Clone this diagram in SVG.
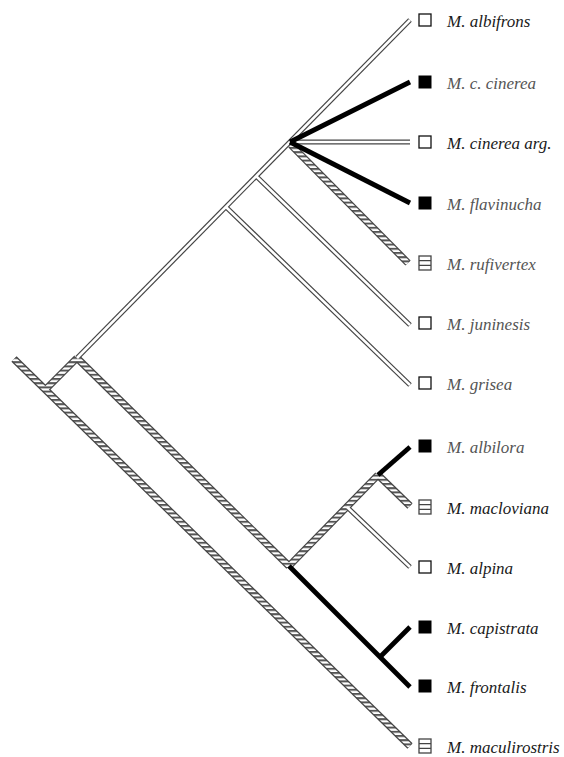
<svg xmlns="http://www.w3.org/2000/svg" width="564" height="757" viewBox="0 0 564 757">
<defs>
<pattern id="hatch" patternUnits="userSpaceOnUse" width="4" height="4.2">
<rect width="4" height="4.2" fill="#ffffff"/>
<rect width="4" height="2" fill="#555555"/>
</pattern>
</defs>
<style>
.hatO{fill:none;stroke:#444;stroke-width:7.4}
.hatI{fill:none;stroke:url(#hatch);stroke-width:5}
.dblO{fill:none;stroke:#444;stroke-width:5}
.dblI{fill:none;stroke:#fff;stroke-width:2.6}
.blk{fill:none;stroke:#000;stroke-width:4.8}
.lbl{font-family:"Liberation Serif","Times New Roman",serif;font-style:italic;font-size:17px;fill:#1a1a1a}
.lbl.g{fill:#555}
.open{fill:#fff;stroke:#111;stroke-width:1.3}
.fill{fill:#000;stroke:#000;stroke-width:1}
.strp{fill:#fff;stroke:#444;stroke-width:1.3}
</style>
<rect width="564" height="757" fill="#fff"/>
<g id="connectors">
<path class="hatO" d="M14,359 L410,746"/>
<path class="hatO" d="M45,390 L77,358"/>
<path class="hatO" d="M77,358 L289,566"/>
<path class="hatO" d="M291,145 L408,263"/>
<path class="hatO" d="M289,566 L378,475"/>
<path class="hatO" d="M378,475 L410,506"/>
<path class="dblO" d="M77,358 L410,20"/>
<path class="dblO" d="M226,207 L410,385"/>
<path class="dblO" d="M256,176 L410,325"/>
<path class="dblO" d="M290,142 L410,142"/>
<path class="dblO" d="M347,507 L410,567"/>
<path class="hatI" d="M14,359 L410,746"/>
<path class="hatI" d="M45,390 L77,358"/>
<path class="hatI" d="M77,358 L289,566"/>
<path class="hatI" d="M291,145 L408,263"/>
<path class="hatI" d="M289,566 L378,475"/>
<path class="hatI" d="M378,475 L410,506"/>
<path class="dblI" d="M77,358 L410,20"/>
<path class="dblI" d="M226,207 L410,385"/>
<path class="dblI" d="M256,176 L410,325"/>
<path class="dblI" d="M290,142 L410,142"/>
<path class="dblI" d="M347,507 L410,567"/>
<path class="blk" d="M290,142 L410,82"/>
<path class="blk" d="M290,142 L410,203"/>
<path class="blk" d="M378,475 L410,447"/>
<path class="blk" d="M289,566 L410,687"/>
<path class="blk" d="M380,657 L410,627"/>
</g>
<g id="albifrons"><rect class="open" x="419" y="14" width="12" height="12"/><text class="lbl" x="447" y="27">M. albifrons</text></g>
<g id="c-cinerea"><rect class="fill" x="419" y="76" width="12" height="12"/><text class="lbl g" x="447" y="89">M. c. cinerea</text></g>
<g id="cinerea-arg"><rect class="open" x="419" y="136" width="12" height="12"/><text class="lbl" x="447" y="149">M. cinerea arg.</text></g>
<g id="flavinucha"><rect class="fill" x="419" y="197" width="12" height="12"/><text class="lbl g" x="447" y="210">M. flavinucha</text></g>
<g id="rufivertex"><rect class="strp" x="419" y="256" width="12" height="14"/><path d="M419,260.7 H431 M419,265.3 H431" stroke="#444" stroke-width="1.2"/><text class="lbl g" x="447" y="270">M. rufivertex</text></g>
<g id="juninesis"><rect class="open" x="419" y="317" width="12" height="12"/><text class="lbl g" x="447" y="330">M. juninesis</text></g>
<g id="grisea"><rect class="open" x="419" y="377" width="12" height="12"/><text class="lbl g" x="447" y="390">M. grisea</text></g>
<g id="albilora"><rect class="fill" x="419" y="440" width="12" height="12"/><text class="lbl g" x="447" y="453">M. albilora</text></g>
<g id="macloviana"><rect class="strp" x="419" y="500" width="12" height="14"/><path d="M419,504.7 H431 M419,509.3 H431" stroke="#444" stroke-width="1.2"/><text class="lbl" x="447" y="514">M. macloviana</text></g>
<g id="alpina"><rect class="open" x="419" y="561" width="12" height="12"/><text class="lbl" x="447" y="574">M. alpina</text></g>
<g id="capistrata"><rect class="fill" x="419" y="621" width="12" height="12"/><text class="lbl" x="447" y="634">M. capistrata</text></g>
<g id="frontalis"><rect class="fill" x="419" y="680" width="12" height="12"/><text class="lbl" x="447" y="693">M. frontalis</text></g>
<g id="maculirostris"><rect class="strp" x="419" y="739" width="12" height="14"/><path d="M419,743.7 H431 M419,748.3 H431" stroke="#444" stroke-width="1.2"/><text class="lbl" x="447" y="753">M. maculirostris</text></g>
</svg>
